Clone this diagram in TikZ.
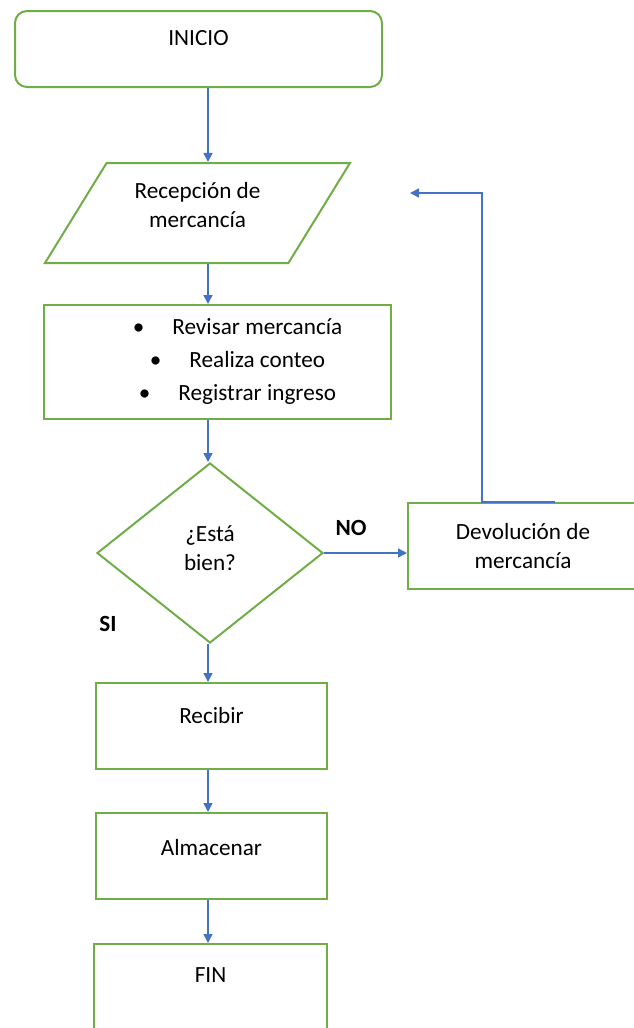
\documentclass[tikz,border=0pt]{standalone}
\usepackage{fontspec}
\setmainfont{Carlito}
\usetikzlibrary{shapes.geometric,arrows.meta}

\definecolor{verde}{RGB}{112,173,71}
\definecolor{azul}{RGB}{68,114,196}
% empty rule that lifts the text inside a box
\newcommand{\hueco}[1]{\rule[-#1]{0pt}{#1}}

\begin{document}
\begin{tikzpicture}[x=0.5pt, y=-0.5pt,
    >={Triangle[length=4.5pt,width=4.5pt]},
    every node/.style={font=\fontsize{11.6}{14.5}\selectfont},
    caja/.style={draw=verde, line width=1pt, align=center},
    flecha/.style={->, azul, line width=0.8pt},
    etiqueta/.style={font=\fontsize{11.6}{14.5}\selectfont\bfseries}]
    \useasboundingbox (0,0) rectangle (633,1028);

    % start
    \node[caja, rounded corners=6pt, minimum width=183.5pt, minimum height=38pt]
        (inicio) at (198.5,49) {INICIO\hueco{11pt}};

    % goods come in
    \node[caja, trapezium, trapezium left angle=50.4, trapezium right angle=129.6,
        trapezium stretches body, minimum width=152.5pt, minimum height=50pt]
        (recep) at (197.5,213) {Recepción de\\mercancía\hueco{8pt}};

    % checks on the goods
    \node[caja, minimum width=173.5pt, minimum height=57pt] (revisar) at (217.5,362)
        {\hspace*{20pt}\textbullet\hspace{14pt}Revisar mercancía\\[2pt]
         \hspace*{20pt}\textbullet\hspace{14pt}Realiza conteo\\[2pt]
         \hspace*{20pt}\textbullet\hspace{14pt}Registrar ingreso};

    % decision
    \node[caja, diamond, minimum width=113pt, minimum height=90pt, inner sep=0pt]
        (revision) at (210,553) {¿Está\\bien?\hueco{5pt}};

    \node[caja, minimum width=115pt, minimum height=43pt]
        (devol) at (523,546) {Devolución de\\mercancía};

    \node[caja, minimum width=115.5pt, minimum height=43pt]
        (recibir) at (211.5,726) {Recibir\hueco{11pt}};
    \node[caja, minimum width=115.5pt, minimum height=43pt]
        (almacenar) at (211.5,856) {Almacenar\hueco{9pt}};
    \node[caja, minimum width=116.5pt, minimum height=43pt]
        (fin) at (210.5,987) {FIN\hueco{12pt}};

    % answers
    \node[etiqueta] (no) at (351,528) {NO};
    \node[etiqueta] (si) at (108,624) {SI};

    % main line
    \coordinate (eje) at (208,0);
    \draw[flecha] (inicio.south -| eje) -- (recep.north -| eje);
    \draw[flecha] (recep.south -| eje) -- (revisar.north -| eje);
    \draw[flecha] (revisar.south -| eje) -- (revision.north -| eje);
    \draw[flecha] (revision.south -| eje) -- (recibir.north -| eje);
    \draw[flecha] (recibir.south -| eje) -- (almacenar.north -| eje);
    \draw[flecha] (almacenar.south -| eje) -- (fin.north -| eje);

    % return of the goods
    \draw[flecha] (revision.east) -- (revision.east -| devol.west);
    \coordinate (vuelta) at (410,193);
    \draw[flecha] ([xshift=16pt]devol.north) -- ([xshift=-20.5pt]devol.north) |- (vuelta);
\end{tikzpicture}
\end{document}
